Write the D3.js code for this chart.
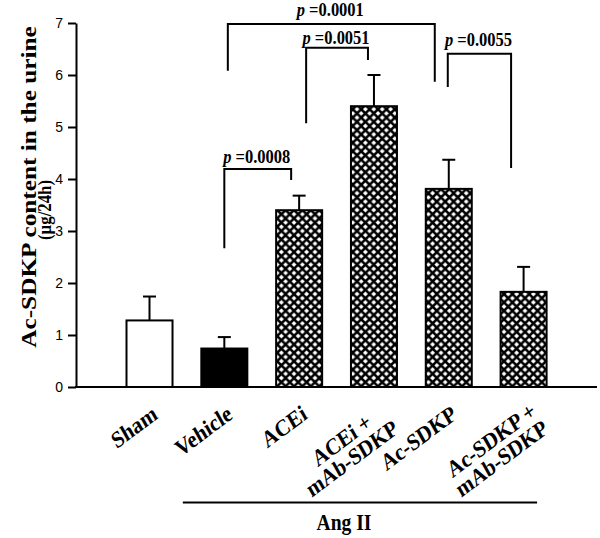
<!DOCTYPE html>
<html>
<head>
<meta charset="utf-8">
<script src="https://cdn.jsdelivr.net/npm/d3@7"></script>
<style>
  html, body { margin: 0; padding: 0; background: #fff; }
  svg { display: block; }
</style>
</head>
<body>
<svg id="chart" width="600" height="538"></svg>
<script>
// ---- data ----
const categories = ["Sham", "Vehicle", "ACEi", "ACEi +\nmAb-SDKP", "Ac-SDKP", "Ac-SDKP +\nmAb-SDKP"];
const means      = [1.28, 0.74, 3.40, 5.40, 3.81, 1.83];
const errors     = [0.46, 0.22, 0.28, 0.60, 0.56, 0.48];
const fills      = ["white", "black", "hatch", "hatch", "hatch", "hatch"];
const yTicks     = [0, 1, 2, 3, 4, 5, 6, 7];
const yTitle     = ["Ac-SDKP content in the urine", "(µg/24h)"];
const groupLabel = "Ang II";
// brackets: from group, to group, top level, left leg bottom, right leg bottom (y units), p-value
const bracketFrom  = [1, 2, 1, 4];
const bracketTo    = [2, 3, 4, 5];
const bracketTop   = [4.19, 6.525, 6.98, 6.41];
const bracketLeftB = [2.67, 5.07, 6.08, 5.77];
const bracketRightB= [3.98, 6.29, 5.87, 4.21];
const bracketP     = ["0.0008", "0.0051", "0.0001", "0.0055"];
// leg x offsets relative to bar centres and label gaps (px)
const bracketLeftOff  = [0, 7, 3.5, -1];
const bracketRightOff = [-8, -6, -14, -12.5];
const bracketTextGap  = [6, 4, 8, 8];

// ---- layout ----
const svg = d3.select("#chart");
const axisX = 76, baseY = 387, topY = 23;
const stretch = 1.15; // the reference's text is vertically stretched
const serif = "'Liberation Serif', 'Times New Roman', serif";
const sans = "'Liberation Sans', Arial, sans-serif";

const x = d3.scaleBand().domain(categories).range([112.1, 561])
  .paddingInner(0.385).paddingOuter(0.1925);
const y = d3.scaleLinear().domain([0, 7]).range([baseY, topY]);
const cx = c => x(c) + x.bandwidth() / 2;

// hatch pattern
const defs = svg.append("defs");
const hp = 8.4;
const pat = defs.append("pattern").attr("id", "hatch")
  .attr("patternUnits", "userSpaceOnUse").attr("width", hp).attr("height", hp);
pat.append("rect").attr("width", hp).attr("height", hp).attr("fill", "white");
pat.append("path")
  .attr("d", `M0,0L${hp},${hp}M${hp},0L0,${hp}`)
  .attr("stroke", "black").attr("stroke-width", 2.5).attr("stroke-linecap", "square");

// y axis
const yAxis = d3.axisLeft(y).tickValues(yTicks).tickFormat(d3.format("d"))
  .tickSize(8).tickSizeOuter(0).tickPadding(5);
const gy = svg.append("g").attr("transform", `translate(${axisX},0)`).call(yAxis);
gy.select(".domain").attr("stroke", "black").attr("stroke-width", 2);
gy.selectAll(".tick line").attr("stroke", "black").attr("stroke-width", 2);
gy.selectAll(".tick text").attr("font-family", sans).attr("font-size", 14).attr("fill", "black");

// x baseline
svg.append("line").attr("x1", axisX - 1).attr("x2", 597).attr("y1", baseY).attr("y2", baseY)
  .attr("stroke", "black").attr("stroke-width", 2);

// bars
svg.selectAll("rect.bar").data(categories).join("rect").attr("class", "bar")
  .attr("x", d => x(d)).attr("width", x.bandwidth())
  .attr("y", (d, i) => y(means[i])).attr("height", (d, i) => baseY - y(means[i]))
  .attr("fill", (d, i) => fills[i] === "hatch" ? "url(#hatch)" : fills[i])
  .attr("stroke", "black").attr("stroke-width", 2);

// error bars
const eg = svg.append("g").attr("stroke", "black").attr("stroke-width", 2);
categories.forEach((c, i) => {
  const top = y(means[i] + errors[i]);
  eg.append("line").attr("x1", cx(c)).attr("x2", cx(c)).attr("y1", y(means[i])).attr("y2", top);
  eg.append("line").attr("x1", cx(c) - 6.5).attr("x2", cx(c) + 6.5).attr("y1", top).attr("y2", top);
});

// brackets
bracketFrom.forEach((f, i) => {
  const xl = cx(categories[f]) + bracketLeftOff[i];
  const xr = cx(categories[bracketTo[i]]) + bracketRightOff[i];
  const yt = y(bracketTop[i]);
  svg.append("path")
    .attr("d", `M${xl},${y(bracketLeftB[i])}L${xl},${yt}L${xr},${yt}L${xr},${y(bracketRightB[i])}`)
    .attr("fill", "none").attr("stroke", "black").attr("stroke-width", 2);
  const t = svg.append("text")
    .attr("transform", `translate(${(xl + xr) / 2 - 1},${yt - bracketTextGap[i]}) scale(1,${stretch})`)
    .attr("text-anchor", "middle").attr("font-family", serif).attr("font-weight", "bold")
    .attr("font-size", 16.5);
  t.append("tspan").attr("font-style", "italic").text("p");
  t.append("tspan").text(" =" + bracketP[i]);
});

// x labels
categories.forEach((c, i) => {
  const lines = c.split("\n");
  const n = lines.length - 1;
  const g = svg.append("g")
    .attr("transform", `translate(${cx(c) + 6 + n * 6},${412 - n * 4}) scale(1,${stretch}) rotate(-33)`);
  const texts = lines.map((l, k) => g.append("text").text(l)
    .attr("font-family", serif).attr("font-weight", "bold").attr("font-size", 20.5)
    .attr("text-anchor", "middle")
    .attr("y", k * 19 + 6));
  const W = d3.max(texts, t => t.node().getComputedTextLength());
  texts.forEach(t => t.attr("x", -W / 2));
});

// group line
const gx1 = cx(categories[1]) - 41.5, gx2 = cx(categories[5]) + 13.5;
svg.append("line").attr("x1", gx1).attr("x2", gx2).attr("y1", 502.5).attr("y2", 502.5)
  .attr("stroke", "black").attr("stroke-width", 2);
svg.append("text").attr("transform", `translate(344,530) scale(1,${stretch})`)
  .attr("text-anchor", "middle")
  .attr("font-family", serif).attr("font-weight", "bold").attr("font-size", 19.6).text(groupLabel);

// y title
svg.append("text").attr("transform", `translate(36,187) scale(1,${stretch}) rotate(-90)`)
  .attr("text-anchor", "middle").attr("font-family", serif).attr("font-weight", "bold")
  .attr("font-size", 22).text(yTitle[0]);
const t2 = svg.append("text")
  .attr("text-anchor", "middle").attr("font-family", serif).attr("font-weight", "bold")
  .attr("font-size", 19).text(yTitle[1]);
const len2 = t2.node().getComputedTextLength();
t2.attr("transform", `translate(51,210) scale(1,${60 / len2}) rotate(-90)`);
</script>
</body>
</html>
